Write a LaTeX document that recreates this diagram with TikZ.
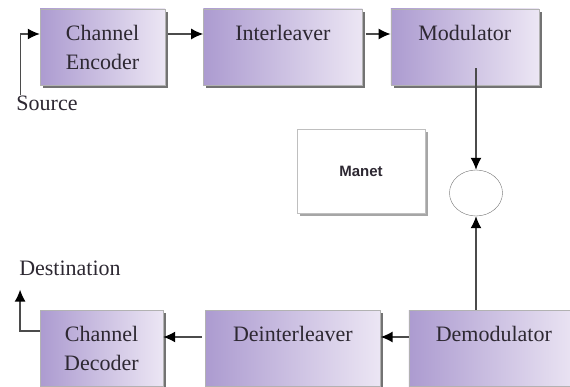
\documentclass[tikz,border=0pt]{standalone}
\usepackage{fontspec}
\setmainfont{Liberation Serif}
\newfontfamily\manetfont{Liberation Sans}
\usepackage{tikz}
\usetikzlibrary{positioning,arrows.meta,shapes.geometric,shadows,calc}
\definecolor{boxdark}{RGB}{172,155,208}
\definecolor{boxlight}{RGB}{236,230,244}
\definecolor{wire}{RGB}{75,75,75}
\definecolor{ink}{RGB}{45,40,50}

\begin{document}
\begin{tikzpicture}[
  x=1pt, y=-1pt,
  font=\fontsize{22}{29}\selectfont, text=ink,
  box/.style={draw=black!30, left color=boxdark, right color=boxlight, align=center,
              minimum height=76pt, inner sep=0pt,
              drop shadow={shadow xshift=3pt, shadow yshift=-3pt, fill=black!55, opacity=1}},
  plain/.style={draw=black!25, fill=white, minimum width=128pt, minimum height=84pt,
              drop shadow={shadow xshift=3pt, shadow yshift=-3pt, fill=black!35, opacity=1}},
  lbl/.style={inner sep=0pt},
  arr/.style={-{Latex[length=12pt,width=11pt,fill=black,color=black]}, draw=wire, line width=1.4pt}
]
\useasboundingbox (0,0) rectangle (570,387);
% ---- transmit row (top) ----
\node[box, minimum width=125pt] (enc) at (102.5,47) {Channel\\Encoder};
\node[box, minimum width=159pt, right=38pt of enc] (intl) {Interleaver\\\mbox{}};
\node[box, minimum width=148pt, right=28pt of intl] (mod) {Modulator\\\mbox{}};
\node[lbl] (src) at (47,103) {Source};
\draw[arr] ([xshift=4pt]src.north west) |- ([yshift=13pt]enc.west);
\draw[arr, shorten <=3pt] ([yshift=13pt]enc.east) -- ([yshift=13pt]intl.west);
\draw[arr, shorten <=3pt] ([yshift=13pt]intl.east) -- ([yshift=13pt]mod.west);
% ---- channel ----
\node[plain] (manet) at (361,171) {\manetfont\bfseries\fontsize{15}{17}\selectfont Manet};
\node[ellipse, draw=black!55, fill=white, minimum width=53pt, minimum height=46pt,
      inner sep=0pt] (sum) at (476,193) {};
\draw[arr] ($(sum.north |- mod.south)+(0,-17)$) -- (sum.north);
% ---- receive row (bottom) ----
\node[box, minimum width=123pt] (dec) at (101.5,348) {Channel\\Decoder};
\node[box, minimum width=175pt, right=42pt of dec] (deint) {Deinterleaver\\\mbox{}};
\node[box, minimum width=170pt, right=28pt of deint] (demod) {Demodulator\\\mbox{}};
\node[lbl] (dst) at (70,268) {Destination};
\draw[arr] (sum.south |- demod.north) -- (sum.south);
\draw[arr] ([yshift=11pt]demod.west) -- ([yshift=11pt]deint.east);
\draw[arr, shorten <=3pt] ([yshift=11pt]deint.west) -- ([yshift=11pt]dec.east);
\draw[arr] ([yshift=17pt]dec.west) -| ([xshift=1pt,yshift=-14pt]dst.south west);
\end{tikzpicture}
\end{document}
